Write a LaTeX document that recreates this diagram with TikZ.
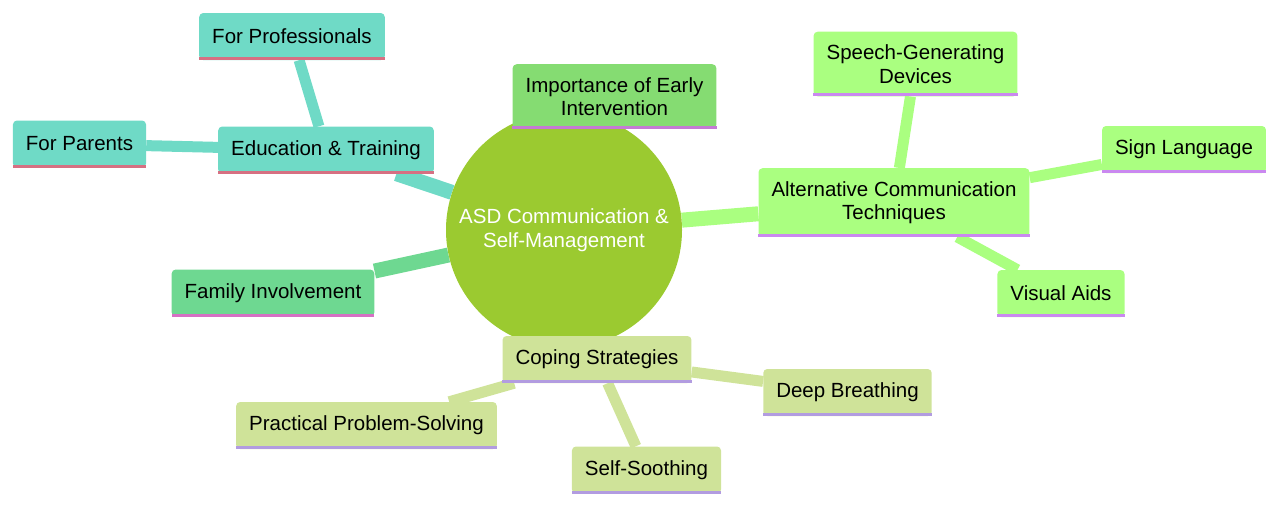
\documentclass[tikz,border=0pt]{standalone}
\usepackage{fontspec}
\setmainfont{Liberation Sans}
\usetikzlibrary{positioning, backgrounds}

\definecolor{rootgreen}{RGB}{155,202,48}
\definecolor{eduteal}{RGB}{111,218,198}
\definecolor{edured}{RGB}{214,112,130}
\definecolor{famgreen}{RGB}{110,216,145}
\definecolor{fampink}{RGB}{214,112,196}
\definecolor{impgreen}{RGB}{133,220,114}
\definecolor{imppurple}{RGB}{196,122,212}
\definecolor{altgreen}{RGB}{170,255,128}
\definecolor{altpurple}{RGB}{202,136,240}
\definecolor{copegreen}{RGB}{207,227,153}
\definecolor{copelav}{RGB}{178,156,224}

\begin{document}
\begin{tikzpicture}[x=1pt, y=-1pt, font=\fontsize{20.5}{23.5}\selectfont,
    topic/.style={rounded corners=4pt, inner xsep=13pt, inner ysep=13pt,
        minimum height=47pt, align=center, text=black},
    link/.style={line width=15pt},
    twig/.style={line width=11pt}]
    \useasboundingbox (0,0) rectangle (1280,506);

    % Central topic
    \node[circle, fill=rootgreen, text=white, minimum size=236pt, inner sep=0pt,
        align=center] (root) at (564,230) {ASD Communication \&\\Self-Management};

    % Main branches
    \node[topic, fill=eduteal] (edu) at (326,150) {Education \& Training};
    \node[topic, fill=famgreen] (fam) at (273,293) {Family Involvement};
    \node[topic, fill=impgreen] (imp) at (614.5,96.5) {Importance of Early\\Intervention};
    \node[topic, fill=altgreen] (alt) at (894,202.5) {Alternative Communication\\Techniques};
    \node[topic, fill=copegreen] (cope) at (597,359.5) {Coping Strategies};

    % Leaves
    \node[topic, fill=eduteal] (prof) at (292,36.5) {For Professionals};
    \node[topic, fill=eduteal] (par) at (79.5,144) {For Parents};
    \node[topic, fill=altgreen] (speech) at (915.5,64) {Speech-Generating\\Devices};
    \node[topic, fill=altgreen] (sign) at (1184,149.5) {Sign Language};
    \node[topic, fill=altgreen] (vis) at (1061,293.5) {Visual Aids};
    \node[topic, fill=copegreen] (deep) at (847.5,392.5) {Deep Breathing};
    \node[topic, fill=copegreen] (prob) at (366.5,425.5) {Practical Problem-Solving};
    \node[topic, fill=copegreen] (soothe) at (646.5,470) {Self-Soothing};

    % Bottom borders
    \foreach \n/\c in {edu/edured, prof/edured, par/edured, fam/fampink,
        imp/imppurple, alt/altpurple, speech/altpurple, sign/altpurple,
        vis/altpurple, cope/copelav, deep/copelav, prob/copelav, soothe/copelav}
        \fill[\c] ([yshift=3pt]\n.south west) rectangle (\n.south east);

    % Branch lines
    \begin{pgfonlayer}{background}
        \draw[link, eduteal] (root) -- (edu);
        \draw[link, famgreen] (root) -- (fam);
        \draw[link, impgreen] (root) -- (imp);
        \draw[link, altgreen] (root) -- (alt);
        \draw[link, copegreen] (root) -- (cope);
        \draw[twig, eduteal] (edu) -- (prof);
        \draw[twig, eduteal] (edu) -- (par);
        \draw[twig, altgreen] (alt) -- (speech);
        \draw[twig, altgreen] (alt) -- (sign);
        \draw[twig, altgreen] (alt) -- (vis);
        \draw[twig, copegreen] (cope) -- (deep);
        \draw[twig, copegreen] (cope) -- (prob);
        \draw[twig, copegreen] (cope) -- (soothe);
    \end{pgfonlayer}
\end{tikzpicture}
\end{document}
